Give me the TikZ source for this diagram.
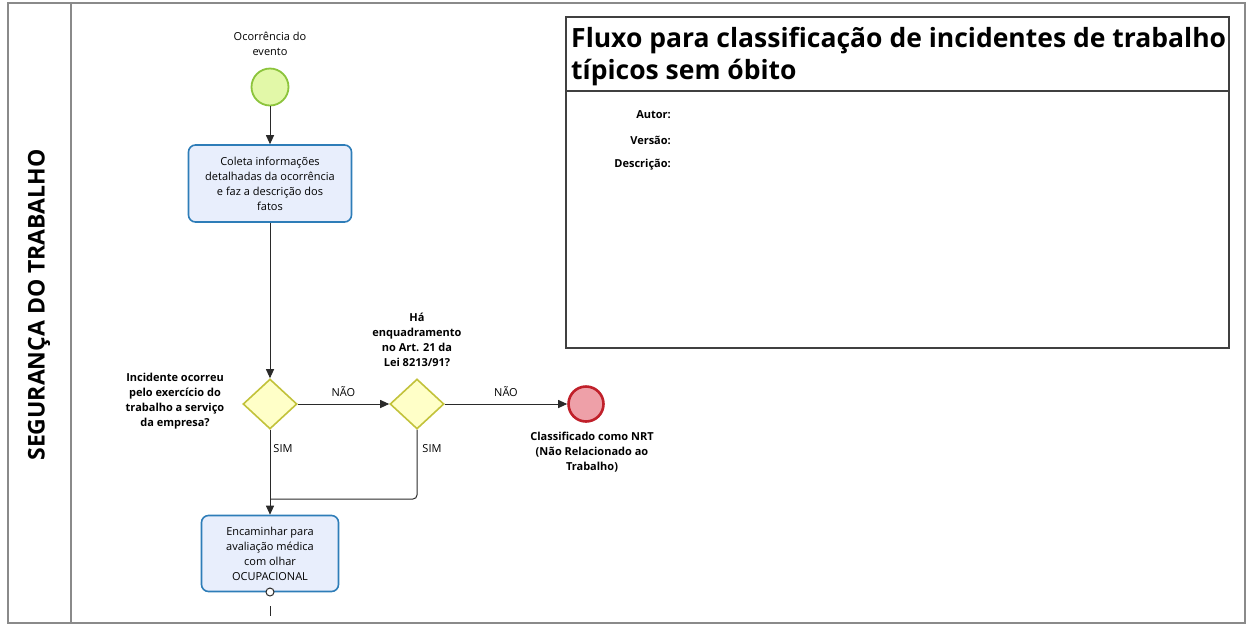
\documentclass[tikz,border=0pt]{standalone}
\usepackage{fontspec}
\setmainfont{Open Sans}
\usetikzlibrary{shapes.geometric,arrows.meta}
\definecolor{framegray}{HTML}{8A8A8A}
\definecolor{startfill}{HTML}{E2F8A8}
\definecolor{startline}{HTML}{8CC43C}
\definecolor{endfill}{HTML}{EEA0A8}
\definecolor{endline}{HTML}{C0202A}
\definecolor{gwfill}{HTML}{FFFFC8}
\definecolor{gwline}{HTML}{C2C23A}
\definecolor{taskfill}{HTML}{E8EEFC}
\definecolor{taskline}{HTML}{2E7DB8}
\definecolor{flowline}{HTML}{2A2A2A}
\begin{document}
\begin{tikzpicture}[x=1pt,y=-1pt,
  small/.style={font=\fontsize{11}{15}\selectfont, align=center, inner sep=0pt},
  smallbold/.style={font=\bfseries\fontsize{11}{15}\selectfont, align=center, inner sep=0pt},
  startev/.style={circle, draw=startline, fill=startfill, line width=1.8pt, minimum size=37pt, inner sep=0pt},
  endev/.style={circle, draw=endline, fill=endfill, line width=2.6pt, minimum size=35pt, inner sep=0pt},
  gateway/.style={diamond, draw=gwline, fill=gwfill, line width=1.6pt, minimum width=54pt, minimum height=50pt, inner sep=0pt},
  task/.style={rectangle, rounded corners=7pt, draw=taskline, fill=taskfill, line width=1.6pt, align=center, inner sep=0pt, font=\fontsize{11}{15}\selectfont},
  flow/.style={draw=flowline, line width=1pt, -{Triangle[length=9pt,width=8pt]}},
  plainflow/.style={draw=flowline, line width=1pt},
  frameline/.style={draw=framegray, line width=2pt}
]
\useasboundingbox (0,0) rectangle (1252,625);

% outer pool frame and lane divider
\draw[frameline] (8,3) rectangle (1245,623);
\draw[frameline] (71,3) -- (71,623);
\node[rotate=90, font=\bfseries\fontsize{23}{26}\selectfont, inner sep=0pt] (lane) at (39,305) {SEGURANÇA DO TRABALHO};

% title box
\draw[draw=black!75, line width=1.3pt] (566,17) rectangle (1229,348);
\draw[draw=black!75, line width=1.3pt] (566,91) -- (1229,91);
\node[anchor=base west, font=\bfseries\fontsize{26.5}{30}\selectfont, inner sep=0pt] (title1) at (571,47) {Fluxo para classificação de incidentes de trabalho};
\node[anchor=base west, font=\bfseries\fontsize{26.5}{30}\selectfont, inner sep=0pt] (title2) at (571,79) {típicos sem óbito};
\node[smallbold, anchor=east] (autor) at (671,115) {Autor:};
\node[smallbold, anchor=east] (versao) at (671,140) {Versão:};
\node[smallbold, anchor=east] (descr) at (671,165) {Descrição:};

% flow elements
\node[small] (startlbl) at (270,44) {Ocorrência do\\evento};
\node[startev] (start) at (270,87) {};
\node[task, minimum width=163pt, minimum height=77pt] (task1) at (270,183.5) {Coleta informações\\detalhadas da ocorrência\\e faz a descrição dos\\fatos};
\node[gateway] (d1) at (270,404) {};
\node[smallbold] (d1lbl) at (175,401.5) {Incidente ocorreu\\pelo exercício do\\trabalho a serviço\\da empresa?};
\node[gateway] (d2) at (417,404) {};
\node[smallbold] (d2lbl) at (417,339.5) {Há\\enquadramento\\no Art. 21 da\\Lei 8213/91?};
\node[endev] (endc) at (586,404) {};
\node[smallbold] (endlbl) at (592,452) {Classificado como NRT\\(Não Relacionado ao\\Trabalho)};
\node[task, minimum width=137pt, minimum height=76pt] (task2) at (270,553.5) {Encaminhar para\\avaliação médica\\com olhar\\OCUPACIONAL};

% connectors
\draw[flow] (start) -- (task1);
\draw[flow] (task1) -- (d1);
\draw[flow] (d1) -- node[small, above=7pt] {NÃO} (d2);
\draw[flow] (d2) -- node[small, above=7pt] {NÃO} (endc);
\draw[flow] (d1) -- (task2);
\node[small] (sim1) at (283,449) {SIM};
\coordinate (merge) at (270,499);
\draw[plainflow, rounded corners=4pt] (d2.south) |- (merge);
\node[small] (sim2) at (432,449) {SIM};

% outgoing marker at bottom of task 2
\node[circle, draw=flowline, fill=white, line width=1pt, minimum size=8pt, inner sep=0pt] (msgstart) at (270,592) {};
\coordinate (tailtop) at (270,606);
\coordinate (tailend) at (270,616);
\draw[plainflow] (tailtop) -- (tailend);
\end{tikzpicture}
\end{document}
